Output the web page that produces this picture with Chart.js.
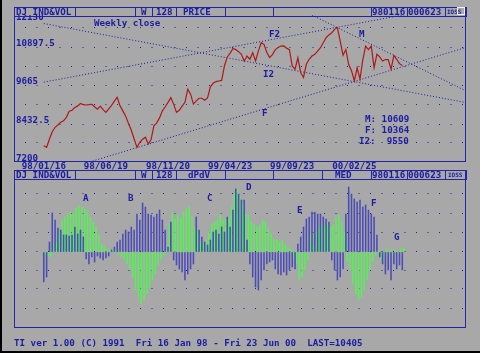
<!DOCTYPE html>
<html>
<head>
<meta charset="utf-8">
<title>DJ IND&amp;VOL</title>
<script src="https://cdn.jsdelivr.net/npm/chart.js@4.4.1/dist/chart.umd.min.js"></script>
<style>
  html, body { margin: 0; padding: 0; }
  body {
    width: 480px; height: 353px; position: relative; overflow: hidden;
    background: #a8a8a8; color: #1c1ca4;
    font: bold 9.2px "DejaVu Sans Mono", monospace;
  }
  .t { position: absolute; white-space: pre; line-height: 9px; height: 9px; }
  .frame { position: absolute; border: 1px solid #2424a4; box-sizing: border-box; }
  .cell { position: absolute; height: 10px; border: 1px solid #2424a4; box-sizing: border-box;
          line-height: 7px; white-space: pre; overflow: hidden; }
  .tiny { font-size: 6px; line-height: 7px; }
  canvas { position: absolute; }
  #edgeL { position: absolute; left: 0; top: 0; width: 2px; height: 353px; background: #000; }
  #edgeB { position: absolute; left: 0; bottom: 0; width: 480px; height: 2px; background: #000; }
</style>
</head>
<body>
<canvas id="price" width="450" height="160" style="left:15px;top:15px"></canvas>
<canvas id="dpdv" width="450" height="149" style="left:15px;top:178px"></canvas>

<div class="frame" style="left:14px;top:7px;width:452px;height:155px"></div>
<div class="frame" style="left:14px;top:170px;width:452px;height:158px"></div>
<div id="hdrTop"></div>
<div id="hdrBot"></div>
<div style="position:absolute;left:457px;top:7px;width:8px;height:8px;border:1px solid #f0f0f0;box-sizing:border-box"></div>

<div class="t" style="left:94px;top:18px">Weekly close</div>
<div class="t" style="left:269px;top:29px">F2</div>
<div class="t" style="left:359px;top:29px">M</div>
<div class="t" style="left:263px;top:69px">I2</div>
<div class="t" style="left:262px;top:108px">F</div>
<div class="t" style="left:365px;top:114px">M: 10609</div>
<div class="t" style="left:365px;top:125px">F: 10364</div>
<div class="t" style="left:359px;top:136px">I2:  9550</div>

<div class="t" style="left:83px;top:193px">A</div>
<div class="t" style="left:128px;top:193px">B</div>
<div class="t" style="left:207px;top:193px">C</div>
<div class="t" style="left:246px;top:182px">D</div>
<div class="t" style="left:297px;top:205px">E</div>
<div class="t" style="left:371px;top:198px">F</div>
<div class="t" style="left:394px;top:232px">G</div>

<div class="t" style="left:14px;top:338px">TI ver 1.00 (C) 1991  Fri 16 Jan 98 - Fri 23 Jun 00  LAST=10405</div>
<div id="edgeL"></div>
<div id="edgeB"></div>

<script>
// weekly close, 98/01/16 .. 00/06/23 (128 weeks)
const closes = [
  7670, 7615, 7900, 8150, 8300, 8380, 8470, 8520, 8640, 8850,
  8880, 8975, 9030, 9110, 9070, 9060, 9070, 9085, 9000, 8920,
  9020, 8900, 8810, 8930, 9050, 9190, 9320, 9030, 8860, 8680,
  8430, 8200, 7900, 7615, 7790, 7890, 7960, 7730, 7880, 8350,
  8450, 8620, 8860, 9000, 9150, 9310, 9090, 8810, 8880, 9020,
  9150, 9600, 9430, 9090, 9200, 9290, 9290, 9220, 9300, 9680,
  9800, 9860, 9880, 9900, 10400, 10700, 10830, 10990, 10950, 10880,
  10790, 10560, 10730, 10620, 10845, 10560, 10900, 11185, 11130, 10850,
  10680, 10780, 10950, 11020, 11070, 11075, 11000, 10950, 10390, 10280,
  10670, 10170, 10000, 10450, 10620, 10730, 10790, 10900, 11015, 11185,
  11355, 11450, 11525, 11640, 11700, 11240, 10760, 10950, 10440, 10230,
  9880, 10330, 9940, 10600, 11070, 10950, 11070, 10330, 10790, 10700,
  10560, 10610, 10610, 10280, 10750, 10620, 10470, 10405
];

// dPdV histogram, two interleaved series
const dpBlue = [
  -30, -25, 10, 39, 32, 24, 22, 17, 17, 16,
  17, 25, 18, 22, 15, -7, -12, -5, -10, -4,
  -6, -8, -6, -4, 2, 5, 10, 12, 18, 22,
  20, 25, 22, 38, 32, 49, 45, 38, 37, 35,
  38, 42, 32, 22, 5, 30, -8, -13, -17, -20,
  -28, -22, -17, -12, 35, 22, 15, 10, 7, 12,
  20, 22, 18, 25, 20, 35, 25, 42, 63, 58,
  52, 52, 12, -12, -25, -35, -38, -28, -18, -12,
  -10, -8, -17, -22, -23, -20, -23, -18, -15, -17,
  8, 15, 25, 33, 35, 40, 40, 38, 38, 35,
  33, 30, -8, -18, -28, -25, -17, 38, 65, 58,
  53, 50, 52, 45, 47, 42, 38, 35, 17, -5,
  -12, -22, -18, -28, -12, -17, -13, -18
];
const dvGreen = [
  -3, -5, -4, 8, 10, 20, 32, 35, 38, 40,
  38, 44, 46, 45, 43, 40, 35, 30, 25, 17,
  8, 5, 3, 2, 3, 2, -2, -5, -7, -12,
  -17, -25, -38, -45, -52, -48, -42, -35, -28, -22,
  -13, -7, -3, 2, 28, 40, 33, 37, 33, 40,
  43, 45, 35, 25, 20, 10, 8, 12, 20, 28,
  30, 32, 38, 32, 32, 35, 45, 58, 63, 55,
  48, 38, 37, 30, 28, 25, 27, 32, 30, 23,
  18, 13, 12, 10, 12, 7, 5, 3, -5, -12,
  -28, -25, -18, -8, 17, 5, 20, 25, 28, 25,
  30, 25, 27, 35, 37, 30, 20, -10, -18, -32,
  -42, -48, -45, -38, -28, -18, -10, -3, 2, -8,
  -4, 3, 2, -3, 2, -2, 3, 4
];

const dateTicks = ['98/01/16', '98/06/19', '98/11/20', '99/04/23', '99/09/23', '00/02/25'];
const dateTickWeeks = [0, 22, 44, 66, 88, 110];
const priceTicks = [12130, 10897.5, 9665, 8432.5, 7200];

// trend lines [week, price]
const lineI2 = [[0, 11840], [149, 9153]];
const lineF2 = [[0, 9840], [130, 12180]];
const lineM = [[94, 12174], [149, 9566]];
const lineF = [[0, 6640], [149, 11009]];

const ink = '#1c1ca4';
const mono = { family: 'DejaVu Sans Mono', size: 9.2, weight: 'bold' };
const xMin = -10.2, xMax = 149.2;
const priceRows = [7764, 8412, 9070, 9718, 10366, 11028, 11687];
const dpdvRows = [-56, -37, -18, 0, 20, 39, 58];

function cells(id, top, list) {
  const host = document.getElementById(id);
  list.forEach(c => {
    const d = document.createElement('div');
    d.className = 'cell' + (c[4] ? ' ' + c[4] : '');
    d.style.left = c[0] + 'px';
    d.style.top = top + 'px';
    d.style.width = (c[1] - c[0] + 1) + 'px';
    d.style.paddingLeft = (c[3] || 0) + 'px';
    d.textContent = c[2];
    host.appendChild(d);
  });
}
cells('hdrTop', 7, [
  [14, 75, 'DJ IND&VOL', 1], [75, 135, ''], [135, 152, 'W', 5], [152, 176, '128', 3],
  [176, 225, 'PRICE', 6], [225, 273, ''], [273, 371, ''], [371, 407, '980116', 0],
  [407, 445, '000623', 0], [445, 466, 'IOSS', 1, 'tiny']
]);
cells('hdrBot', 170, [
  [14, 75, 'DJ IND&VOL', 1], [75, 135, ''], [135, 152, 'W', 5], [152, 176, '128', 3],
  [176, 225, 'dPdV', 11], [225, 273, ''], [273, 322, ''], [322, 371, 'MED', 12],
  [371, 407, '980116', 0], [407, 445, '000623', 0], [445, 466, 'IOSS', 2, 'tiny']
]);

const priceLabels = {
  id: 'priceLabels',
  afterDraw(chart) {
    const s = chart.scales.y, a = chart.chartArea, ctx = chart.ctx;
    ctx.save();
    ctx.font = 'bold 9.2px "DejaVu Sans Mono"';
    ctx.fillStyle = ink;
    ctx.textAlign = 'left';
    ctx.textBaseline = 'middle';
    priceTicks.forEach(v => {
      let y = a.bottom - (a.bottom - s.getPixelForValue(v)) * 1.054 - 1.2;
      y = Math.max(y, a.top + 2.5);
      ctx.fillText(String(v), a.left + 1, y);
    });
    ctx.restore();
  }
};

function trend(pts) {
  return {
    type: 'line',
    data: pts.map(p => ({ x: p[0], y: p[1] })),
    borderColor: ink, borderWidth: 1, borderDash: [1, 2],
    pointRadius: 0, tension: 0
  };
}

new Chart('price', {
  type: 'line',
  data: {
    datasets: [
      {
        data: closes.map((v, i) => ({ x: i, y: v })),
        borderColor: '#b01818', borderWidth: 1.2, pointRadius: 0, tension: 0
      },
      trend(lineI2), trend(lineF2), trend(lineM), trend(lineF)
    ]
  },
  options: {
    responsive: false, animation: false, events: [],
    layout: { padding: 0 },
    plugins: { legend: { display: false }, tooltip: { enabled: false } },
    scales: {
      x: {
        type: 'linear', min: xMin, max: xMax, offset: false,
        afterBuildTicks: s => { s.ticks = dateTickWeeks.map(v => ({ value: v })); },
        afterFit: s => { s.height = 14; },
        ticks: {
          autoSkip: false, maxRotation: 0, padding: 0, color: ink, font: mono,
          callback: (v, i) => dateTicks[i]
        },
        grid: { display: false, drawTicks: false },
        border: { display: false }
      },
      y: {
        min: 7150, max: 12130,
        afterBuildTicks: s => { s.ticks = priceRows.map(v => ({ value: v })); },
        afterFit: s => { s.width = 0; },
        ticks: { display: false },
        grid: { color: ink, lineWidth: 1, drawTicks: false },
        border: { display: false, dash: [1, 10.5], dashOffset: 1.5 }
      }
    }
  },
  plugins: [priceLabels]
});

new Chart('dpdv', {
  type: 'bar',
  data: {
    datasets: [
      {
        data: dpBlue.map((v, i) => ({ x: i, y: v })),
        backgroundColor: '#4c4cb8', barThickness: 0.9, grouped: false
      },
      {
        data: dvGreen.map((v, i) => ({ x: i + 0.5, y: v })),
        backgroundColor: '#58f058', barThickness: 0.9, grouped: false
      }
    ]
  },
  options: {
    responsive: false, animation: false, events: [],
    layout: { padding: 0 },
    plugins: { legend: { display: false }, tooltip: { enabled: false } },
    scales: {
      x: { type: 'linear', min: xMin, max: xMax, offset: false, display: false },
      y: {
        min: -75, max: 74,
        afterBuildTicks: s => { s.ticks = dpdvRows.map(v => ({ value: v })); },
        afterFit: s => { s.width = 0; },
        ticks: { display: false },
        grid: { color: ink, lineWidth: 1, drawTicks: false },
        border: { display: false, dash: [1, 10.5], dashOffset: 1.5 }
      }
    }
  }
});
</script>
</body>
</html>
